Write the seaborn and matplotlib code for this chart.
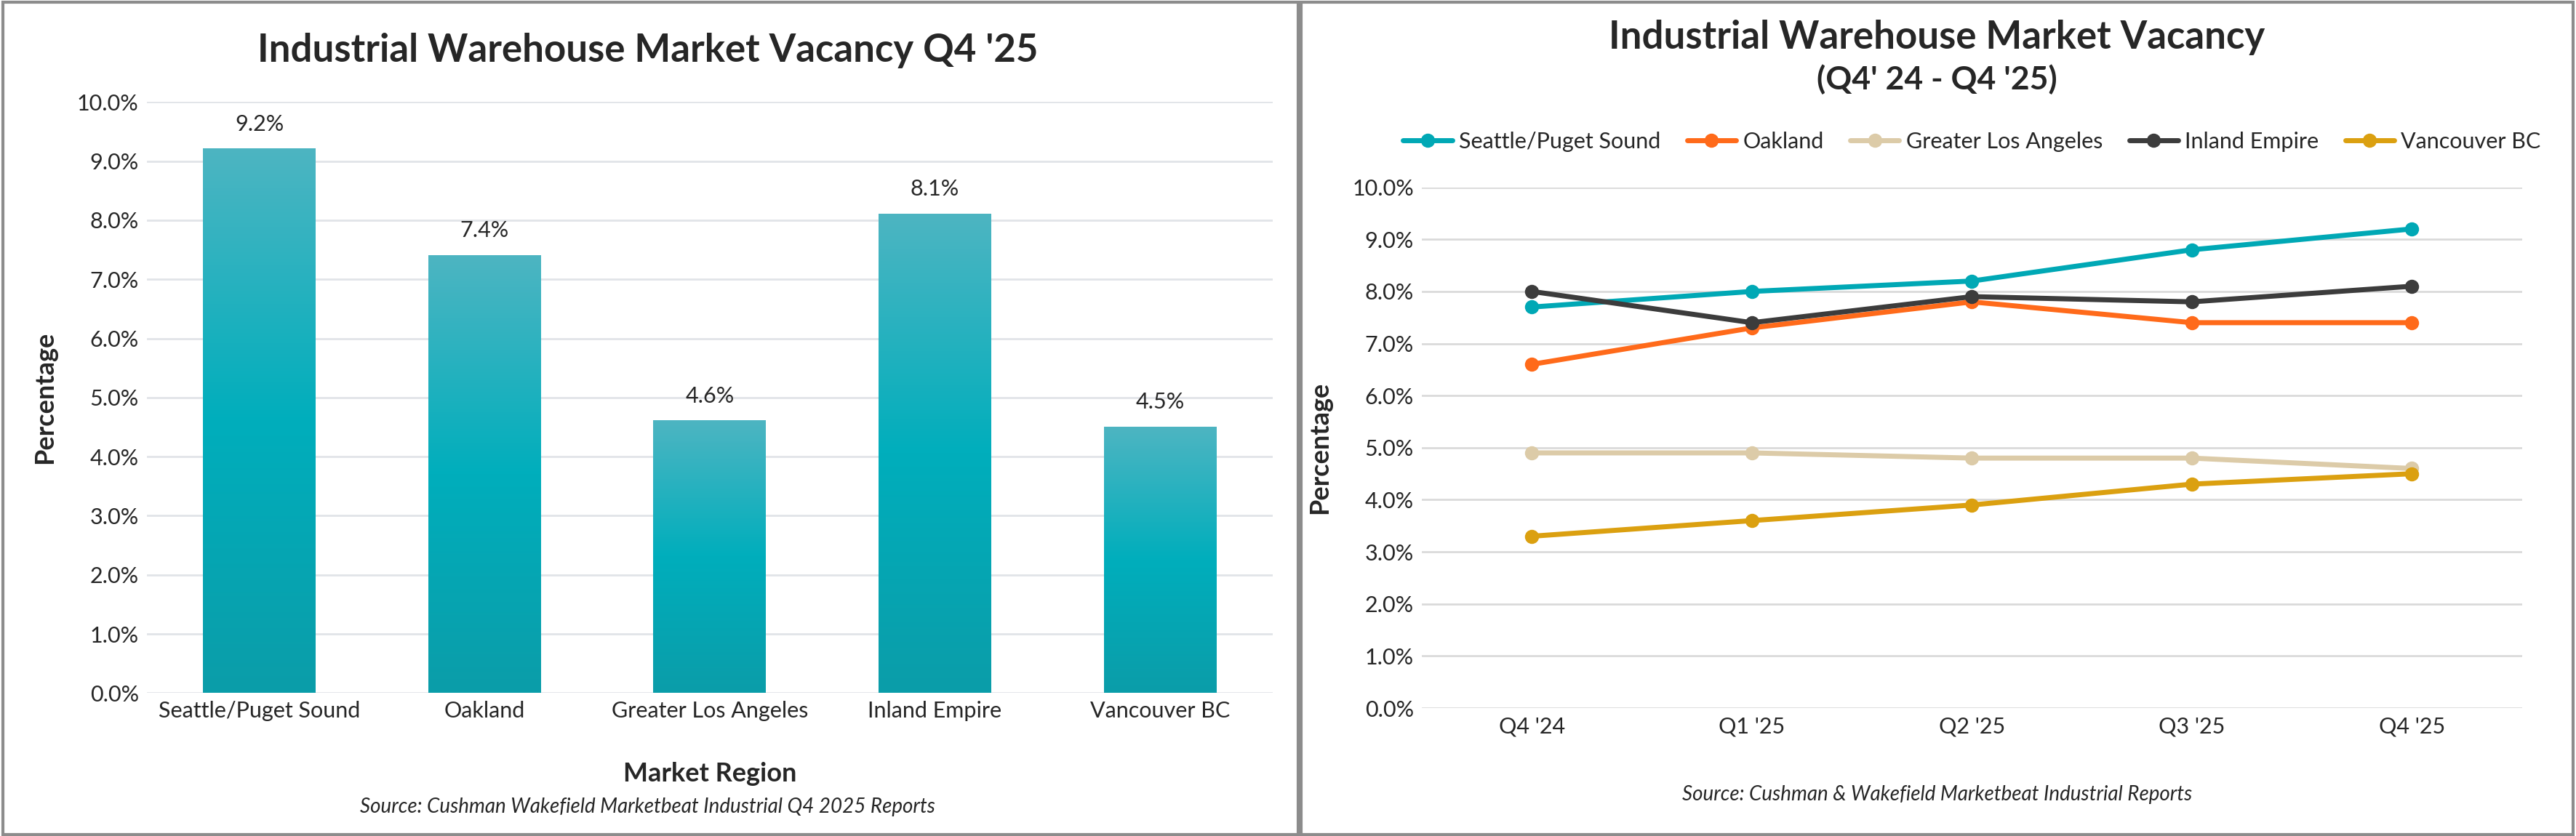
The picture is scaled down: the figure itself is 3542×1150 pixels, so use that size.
import matplotlib
matplotlib.use("Agg")
import matplotlib.pyplot as plt
import seaborn as sns
import numpy as np
import pandas as pd
from matplotlib.patches import Rectangle
from matplotlib.ticker import PercentFormatter
from matplotlib.colors import LinearSegmentedColormap

regions = ["Seattle/Puget Sound", "Oakland", "Greater Los Angeles", "Inland Empire", "Vancouver BC"]
q4_25 = [9.2, 7.4, 4.6, 8.1, 4.5]
quarters = ["Q4 '24", "Q1 '25", "Q2 '25", "Q3 '25", "Q4 '25"]
seattle = [7.7, 8.0, 8.2, 8.8, 9.2]
oakland = [6.6, 7.3, 7.8, 7.4, 7.4]
gla = [4.9, 4.9, 4.8, 4.8, 4.6]
inland = [8.0, 7.4, 7.9, 7.8, 8.1]
vancouver = [3.3, 3.6, 3.9, 4.3, 4.5]
line_colors = ["#00A8B5", "#FF6A1A", "#DCCBA8", "#3C3C3C", "#DBA010"]

sns.set_theme(style="white")
plt.rcParams['font.family'] = ['Lato', 'DejaVu Sans']

fig = plt.figure(figsize=(35.42, 11.5), dpi=100)
fig.patches.append(Rectangle((0.001, 0.002), 0.503, 0.995, transform=fig.transFigure,
                             fill=False, edgecolor="#8C8C8C", linewidth=3))
fig.patches.append(Rectangle((0.505, 0.002), 0.494, 0.995, transform=fig.transFigure,
                             fill=False, edgecolor="#8C8C8C", linewidth=3))

# ---- Left: bar chart ----
ax1 = fig.add_axes([0.057, 0.171, 0.437, 0.707])
df1 = pd.DataFrame({"Region": regions, "Vacancy": q4_25})
sns.barplot(data=df1, x="Region", y="Vacancy", color="#00ADBB", width=0.5, ax=ax1, zorder=3)
grad = LinearSegmentedColormap.from_list("g", ["#0B9DA9", "#00AEBC", "#4DB5C2"])
img = np.linspace(0, 1, 256).reshape(-1, 1)
for p in list(ax1.patches):
    x0, y0, w, h = p.get_x(), p.get_y(), p.get_width(), p.get_height()
    p.set_facecolor("none")
    p.set_edgecolor("none")
    im = ax1.imshow(img, cmap=grad, origin="lower", aspect="auto",
                    extent=(x0, x0 + w, 0, h), zorder=3)
    ax1.text(x0 + w / 2, y0 + h + 0.25, f"{h:.1f}%", ha="center", va="bottom", fontsize=22)
ax1.set_ylim(0, 10)
ax1.set_xlim(-0.5, 4.5)
ax1.set_yticks(np.arange(0, 11, 1))
ax1.yaxis.set_major_formatter(PercentFormatter(decimals=1))
ax1.grid(axis="y", color="#E1E4E8", linewidth=2, zorder=0)
ax1.set_axisbelow(True)
for s in ax1.spines.values():
    s.set_visible(False)
ax1.tick_params(axis="both", labelsize=22, length=0, pad=8)
ax1.set_xlabel("Market Region", fontsize=26, fontweight="bold", labelpad=40)
ax1.set_ylabel("Percentage", fontsize=26, fontweight="bold", labelpad=20)
fig.text(0.2515, 0.94, "Industrial Warehouse Market Vacancy Q4 '25", ha="center", va="center",
         fontsize=38, fontweight="bold")
fig.text(0.2515, 0.035, "Source: Cushman Wakefield Marketbeat Industrial Q4 2025 Reports",
         ha="center", va="center", fontsize=20, style="italic")

# ---- Right: line chart ----
ax2 = fig.add_axes([0.552, 0.153, 0.427, 0.623])
series = {"Seattle/Puget Sound": seattle, "Oakland": oakland, "Greater Los Angeles": gla,
          "Inland Empire": inland, "Vancouver BC": vancouver}
df2 = pd.DataFrame([{"Quarter": q, "Region": r, "Vacancy": v}
                    for r, vals in series.items() for q, v in zip(quarters, vals)])
sns.lineplot(data=df2, x="Quarter", y="Vacancy", hue="Region", hue_order=regions,
             palette=line_colors, marker="o", markersize=14, markeredgewidth=0,
             linewidth=5, sort=False, ax=ax2, zorder=3)
ax2.set_ylim(0, 10)
ax2.set_xlim(-0.5, 4.5)
ax2.set_yticks(np.arange(0, 11, 1))
ax2.yaxis.set_major_formatter(PercentFormatter(decimals=1))
ax2.grid(axis="y", color="#DADADA", linewidth=2, zorder=0)
for s in ax2.spines.values():
    s.set_visible(False)
ax2.tick_params(axis="both", labelsize=22, length=0, pad=8)
ax2.set_xlabel("")
ax2.set_ylabel("Percentage", fontsize=26, fontweight="bold", labelpad=20)
ax2.legend(loc="lower center", bbox_to_anchor=(0.5, 1.03), ncol=5, frameon=False,
           fontsize=22, handlelength=2.2, handletextpad=0.3, columnspacing=1.2)
fig.text(0.752, 0.955, "Industrial Warehouse Market Vacancy", ha="center", va="center",
         fontsize=38, fontweight="bold")
fig.text(0.752, 0.905, "(Q4' 24 - Q4 '25)", ha="center", va="center",
         fontsize=32, fontweight="bold")
fig.text(0.752, 0.05, "Source: Cushman & Wakefield Marketbeat Industrial Reports",
         ha="center", va="center", fontsize=20, style="italic")

fig.savefig("out.png", dpi=100, facecolor="white")
